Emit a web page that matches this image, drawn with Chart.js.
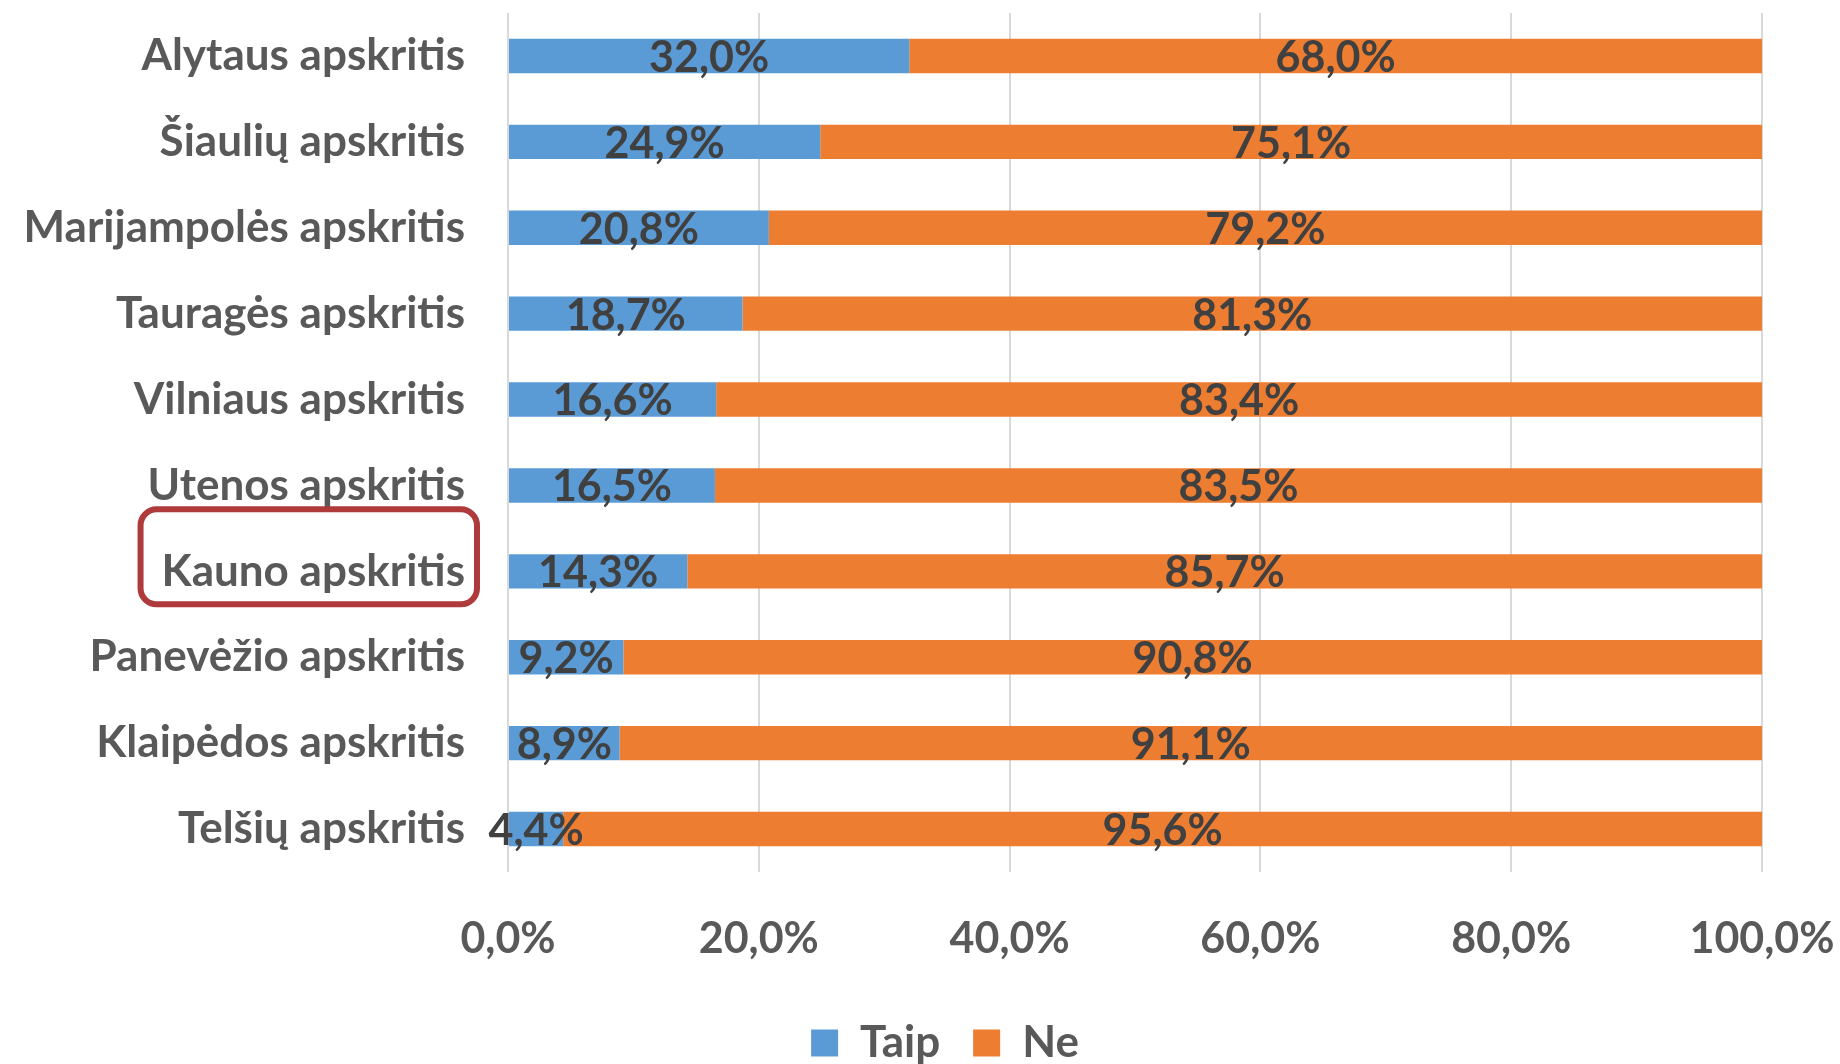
<!DOCTYPE html>
<html lang="lt">
<head>
<meta charset="utf-8">
<title>Apskritys</title>
<script src="https://cdn.jsdelivr.net/npm/chart.js@4.4.1/dist/chart.umd.min.js"></script>
<style>
  html, body { margin: 0; padding: 0; background: #ffffff; }
  #chart { display: block; }
</style>
</head>
<body>
<canvas id="chart" width="1840" height="1064"></canvas>
<script>
"use strict";

// duomenys
const categories = [
  "Alytaus apskritis",
  "Šiaulių apskritis",
  "Marijampolės apskritis",
  "Tauragės apskritis",
  "Vilniaus apskritis",
  "Utenos apskritis",
  "Kauno apskritis",
  "Panevėžio apskritis",
  "Klaipėdos apskritis",
  "Telšių apskritis"
];
const taipValues = [32.0, 24.9, 20.8, 18.7, 16.6, 16.5, 14.3, 9.2, 8.9, 4.4];
const neValues = [68.0, 75.1, 79.2, 81.3, 83.4, 83.5, 85.7, 90.8, 91.1, 95.6];
const seriesNames = ["Taip", "Ne"];
const xTicks = [0, 20, 40, 60, 80, 100];
const highlighted = "Kauno apskritis";

const FONT = "Lato, 'Open Sans', sans-serif";
const LABEL_PAD = 43;
const CAT_FONT_SIZE = 44;

function pct(v) {
  return v.toFixed(1).replace(".", ",") + "%";
}

// reikšmių etiketės ant stulpelių
const valueLabels = {
  id: "valueLabels",
  afterDatasetsDraw(chart) {
    const ctx = chart.ctx;
    ctx.save();
    ctx.font = "bold 43px " + FONT;
    ctx.fillStyle = "#404040";
    ctx.textAlign = "center";
    ctx.textBaseline = "middle";
    chart.data.datasets.forEach((ds, i) => {
      const meta = chart.getDatasetMeta(i);
      meta.data.forEach((bar, j) => {
        const x = (bar.x + bar.base) / 2;
        ctx.fillText(pct(ds.data[j]), x, bar.y + 2);
      });
    });
    ctx.restore();
  }
};

// legenda centruojama kaip Excel'yje (ne pagal visą drobę)
const legendShift = {
  id: "legendShift",
  afterLayout(chart) {
    if (chart.legend) chart.legend.left = 128;
  }
};

// raudonas rėmelis aplink pažymėtą apskritį
const highlightBox = {
  id: "highlightBox",
  afterDraw(chart) {
    const idx = categories.indexOf(highlighted);
    if (idx < 0) return;
    const yScale = chart.scales.y;
    const ctx = chart.ctx;
    ctx.save();
    ctx.font = "bold " + CAT_FONT_SIZE + "px " + FONT;
    const w = ctx.measureText(highlighted).width;
    const right = yScale.right - LABEL_PAD;
    const cy = yScale.getPixelForValue(idx);
    const x0 = right - w - 21;
    const x1 = right + 12;
    const y0 = cy - 62;
    const y1 = cy + 33;
    ctx.strokeStyle = "#AE3A3B";
    ctx.lineWidth = 6;
    ctx.beginPath();
    ctx.roundRect(x0, y0, x1 - x0, y1 - y0, 16);
    ctx.stroke();
    ctx.restore();
  }
};

new Chart(document.getElementById("chart"), {
  type: "bar",
  data: {
    labels: categories,
    datasets: [
      { label: seriesNames[0], data: taipValues, backgroundColor: "#5B9BD5" },
      { label: seriesNames[1], data: neValues, backgroundColor: "#ED7D31" }
    ]
  },
  options: {
    indexAxis: "y",
    responsive: false,
    animation: false,
    devicePixelRatio: 1,
    datasets: {
      bar: { categoryPercentage: 1, barPercentage: 0.4 }
    },
    layout: {
      padding: { top: 13, left: 8, right: 78, bottom: -11 }
    },
    scales: {
      x: {
        stacked: true,
        min: 0,
        max: 100,
        afterBuildTicks(scale) {
          scale.ticks = xTicks.map(v => ({ value: v }));
        },
        afterFit(scale) {
          scale.height = 116;
          scale.paddingLeft = 0;
          scale.paddingRight = 0;
        },
        grid: { color: "#D9D9D9", lineWidth: 2, drawTicks: false },
        border: { display: false },
        ticks: {
          padding: 41,
          color: "#595959",
          font: { family: FONT, size: 43, weight: "bold" },
          callback: v => pct(v)
        }
      },
      y: {
        stacked: true,
        afterFit(scale) {
          scale.width = 500;
          scale.paddingTop = 0;
          scale.paddingBottom = 0;
        },
        grid: { display: false, drawTicks: false },
        border: { display: false },
        ticks: {
          padding: LABEL_PAD,
          color: "#595959",
          font: { family: FONT, size: CAT_FONT_SIZE, weight: "bold" }
        }
      }
    },
    plugins: {
      legend: {
        position: "bottom",
        labels: {
          boxWidth: 27,
          boxHeight: 27,
          padding: 33,
          color: "#595959",
          font: { family: FONT, size: 44, weight: "bold" }
        }
      },
      tooltip: { enabled: false }
    }
  },
  plugins: [valueLabels, legendShift, highlightBox]
});
</script>
</body>
</html>
